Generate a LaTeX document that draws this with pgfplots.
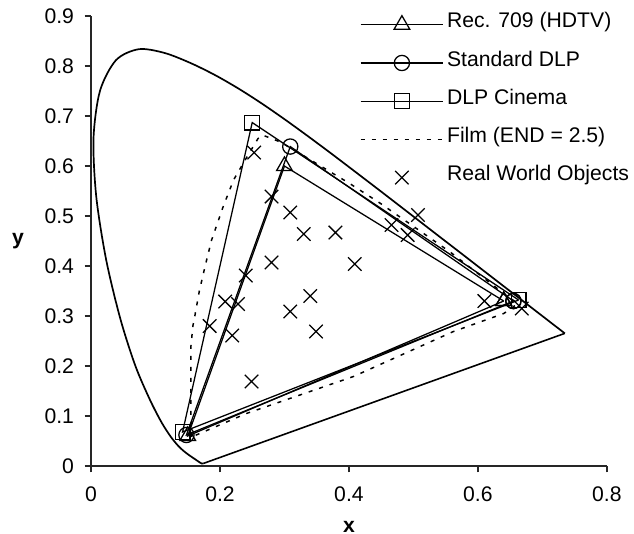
\documentclass[border=0pt]{standalone}
\usepackage{fontspec}
\setmainfont{Liberation Sans}
\usepackage{pgfplots}
\pgfplotsset{compat=1.18}
\begin{document}
\begin{tikzpicture}
\begin{axis}[
  scale only axis, width=243.8pt, height=212.6pt,
  xmin=0, xmax=0.8, ymin=0, ymax=0.9,
  axis x line*=bottom, axis y line*=left,
  axis line style={-, line width=0.6pt, black!85},
  xtick={0,0.2,0.4,0.6,0.8},
  ytick={0,0.1,0.2,0.3,0.4,0.5,0.6,0.7,0.8,0.9},
  tick align=outside, major tick length=3pt,
  tick style={line width=0.6pt, black!85},
  minor tick num=0,
  xticklabel style={yshift=-3.3pt},
  yticklabel style={xshift=-1.5pt},
  /pgf/number format/fixed,
  /pgf/number format/precision=1,
  /pgf/number format/assume math mode=true,
  every axis x label/.style={at={(axis description cs:0.5,0)}, anchor=center, yshift=-28.8pt, font=\bfseries},
  every axis y label/.style={at={(axis description cs:0,0.5)}, anchor=center, xshift=-34.5pt, font=\bfseries},
  xlabel={x}, ylabel={y},
  clip=false,
  legend style={at={(axis cs:0.417,0.908)}, anchor=north west, draw=none, fill=none,
    inner sep=0pt, outer sep=0pt,
    row sep=6.05pt, column sep=1.5pt,
    nodes={inner sep=0pt, text height=7.5pt, text depth=4.5pt}},
  legend cell align=left,
  legend image code/.code={\draw[mark repeat=2,mark phase=2,#1] plot coordinates {(0pt,0pt) (19.5pt,0pt) (39pt,0pt)};},
]
% spectral locus (CIE 1931)
\addplot[black, line width=0.8pt, smooth, tension=0.5, forget plot] coordinates {
(0.1741,0.0050) (0.1733,0.0048) (0.1714,0.0051)
(0.1689,0.0069) (0.1644,0.0109)
(0.1566,0.0177) (0.1510,0.0227) (0.1440,0.0297) (0.1355,0.0399) (0.1241,0.0578)
(0.1096,0.0868) (0.0913,0.1327) (0.0687,0.2007) (0.0454,0.2950) (0.0235,0.4127)
(0.0082,0.5384) (0.0039,0.6548) (0.0139,0.7502) (0.0389,0.8120) (0.0743,0.8338)
(0.1142,0.8262) (0.1547,0.8059) (0.1929,0.7816) (0.2296,0.7543) (0.2658,0.7243)
(0.3016,0.6923) (0.3373,0.6589) (0.3731,0.6245) (0.4087,0.5896) (0.4441,0.5547)
(0.4788,0.5202) (0.5125,0.4866) (0.5448,0.4544) (0.5752,0.4242) (0.6029,0.3965)
(0.6270,0.3725) (0.6482,0.3514) (0.6658,0.3340) (0.6801,0.3197) (0.6915,0.3083)
(0.7006,0.2993) (0.7079,0.2920) (0.7140,0.2859) (0.7190,0.2809) (0.7230,0.2770)
(0.7260,0.2740) (0.7300,0.2700) (0.7347,0.2653)};
% purple line
\addplot[black, line width=0.75pt, forget plot] coordinates {
(0.7347,0.2653) (0.1741,0.0050)};
% Rec. 709
\addplot[black, line width=0.6pt, mark=triangle, mark size=4.3pt, mark options={solid, line width=0.6pt}] coordinates {
(0.64,0.33) (0.30,0.60) (0.15,0.06) (0.64,0.33)};
\addlegendentry{Rec. 709 (HDTV)}
% Standard DLP
\addplot[black, line width=0.6pt, mark=o, mark size=3.6pt, mark options={solid, line width=0.6pt}] coordinates {
(0.655,0.33) (0.309,0.639) (0.148,0.062) (0.655,0.33)};
\addlegendentry{Standard DLP}
% DLP Cinema
\addplot[black, line width=0.6pt, mark=square, mark size=3.5pt, mark options={solid, line width=0.6pt}] coordinates {
(0.663,0.332) (0.250,0.687) (0.142,0.068) (0.663,0.332)};
\addlegendentry{DLP Cinema}
% Film
\addplot[black, line width=0.7pt, dash pattern=on 1.9pt off 3.3pt] coordinates {
(0.156,0.058) (0.155,0.10) (0.155,0.24) (0.158,0.28) (0.161,0.30) (0.168,0.35)
(0.177,0.40) (0.187,0.452) (0.205,0.519) (0.221,0.572) (0.239,0.612) (0.259,0.655)
(0.266,0.662) (0.29,0.650) (0.31,0.636) (0.36,0.597) (0.40,0.566) (0.448,0.526)
(0.497,0.482) (0.557,0.428) (0.60,0.385) (0.64,0.345) (0.662,0.325)
(0.64,0.305) (0.562,0.269) (0.407,0.179) (0.241,0.105) (0.156,0.058)};
\addlegendentry{Film (END = 2.5)}
% Real world objects
\addplot[black, only marks, mark=x, mark size=4.5pt, mark options={line width=0.6pt}] coordinates {
(0.253,0.627) (0.280,0.539) (0.309,0.507) (0.330,0.464) (0.379,0.467)
(0.280,0.407) (0.409,0.404) (0.240,0.381) (0.208,0.329) (0.228,0.324)
(0.340,0.340) (0.309,0.309) (0.184,0.280) (0.219,0.261) (0.349,0.269)
(0.249,0.169) (0.466,0.482) (0.491,0.462) (0.507,0.502) (0.610,0.330)
(0.668,0.315)};
\addlegendentry{Real World Objects}
\end{axis}
\pgfresetboundingbox
\path[use as bounding box] (-43pt,-32.1pt) rectangle (256.6pt,220.2pt);
\end{tikzpicture}
\end{document}
